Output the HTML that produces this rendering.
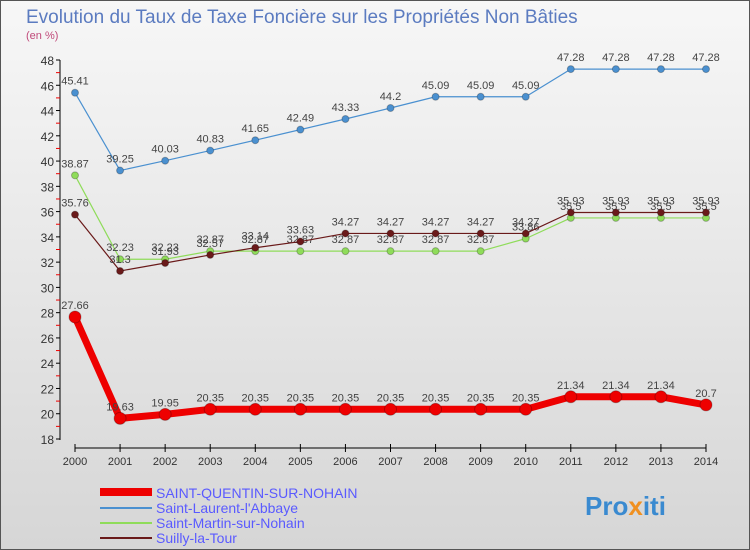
<!DOCTYPE html>
<html><head><meta charset="utf-8">
<style>
body{margin:0;width:750px;height:550px;overflow:hidden;font-family:"Liberation Sans",sans-serif;}
svg{display:block}
</style></head>
<body>
<svg id="chart" width="750" height="550" xmlns="http://www.w3.org/2000/svg">
<defs>
<linearGradient id="bg" x1="0" y1="0" x2="0" y2="1">
<stop offset="0" stop-color="#f7f7f7"/><stop offset="1" stop-color="#d6d6d6"/>
</linearGradient>
</defs>
<rect x="0.5" y="0.5" width="749" height="549" fill="url(#bg)" stroke="#555"/>
<text x="26" y="23" font-size="19" fill="#5b7bc0">Evolution du Taux de Taxe Foncière sur les Propriétés Non Bâties</text>
<text x="26" y="39" font-size="11" fill="#c04a7a">(en %)</text>
<g id="axes"></g>
<g id="series"></g>
<g id="legend">
<rect x="100" y="488" width="52" height="8" fill="#e00"/>
<text x="156" y="498" font-size="14" fill="#5a5aff">SAINT-QUENTIN-SUR-NOHAIN</text>
<rect x="100" y="507" width="52" height="2" fill="#4a90d0"/>
<text x="156" y="513" font-size="14" fill="#5a5aff">Saint-Laurent-l'Abbaye</text>
<rect x="100" y="522" width="52" height="2" fill="#8fdc5a"/>
<text x="156" y="528" font-size="14" fill="#5a5aff">Saint-Martin-sur-Nohain</text>
<rect x="100" y="537" width="52" height="2" fill="#6a1a1a"/>
<text x="156" y="543" font-size="14" fill="#5a5aff">Suilly-la-Tour</text>
</g>
<text x="585" y="515" font-size="26" font-weight="bold" fill="#3a8ad0">Pro<tspan fill="#f09020">x</tspan>iti</text>
</svg>
<script>
const years=[2000,2001,2002,2003,2004,2005,2006,2007,2008,2009,2010,2011,2012,2013,2014];
const yTicks=[18,20,22,24,26,28,30,32,34,36,38,40,42,44,46,48];
const quentin=[27.66,19.63,19.95,20.35,20.35,20.35,20.35,20.35,20.35,20.35,20.35,21.34,21.34,21.34,20.7];
const laurent=[45.41,39.25,40.03,40.83,41.65,42.49,43.33,44.2,45.09,45.09,45.09,47.28,47.28,47.28,47.28];
const martin=[38.87,32.23,32.23,32.87,32.87,32.87,32.87,32.87,32.87,32.87,33.86,35.5,35.5,35.5,35.5];
const suilly=[35.76,31.3,31.93,32.57,33.14,33.63,34.27,34.27,34.27,34.27,34.27,35.93,35.93,35.93,35.93];
const NS="http://www.w3.org/2000/svg";
const xS=i=>75+i*(706-75)/14;
const yS=v=>439-(v-18)*(439-60)/30;
function mk(t,a,p){const e=document.createElementNS(NS,t);for(const k in a)e.setAttribute(k,a[k]);p.appendChild(e);return e;}
const ax=document.getElementById('axes');
let l=mk('line',{x1:60,y1:60,x2:60,y2:440,stroke:'#000'},ax);


yTicks.forEach(v=>{
 mk('line',{x1:56,y1:yS(v),x2:60,y2:yS(v),stroke:'#000'},ax);
 if(v<48) mk('line',{x1:56,y1:yS(v+1),x2:60,y2:yS(v+1),stroke:'#e00'},ax);
 const t=mk('text',{x:54,y:yS(v)+5,'font-size':12,'text-anchor':'end',fill:'#333'},ax);
 
 
 t.textContent=v;
});
l=mk('line',{x1:75,y1:448,x2:706,y2:448,stroke:'#000'},ax);


years.forEach((y,i)=>{
 mk('line',{x1:xS(i),y1:444,x2:xS(i),y2:452,stroke:'#000'},ax);
 const t=mk('text',{x:xS(i),y:465,'font-size':11,'text-anchor':'middle',fill:'#333'},ax);
 
 
 t.textContent=y;
});
const sg=document.getElementById('series');
function draw(vals,color,w,r,name){
 const g=mk('g',{},sg);
 
 
 mk('polyline',{points:vals.map((v,i)=>xS(i)+','+yS(v)).join(' '),fill:'none',stroke:color,'stroke-width':w,'stroke-linejoin':'round'},g);
 vals.forEach((v,i)=>{
  const c=mk('circle',{cx:xS(i),cy:yS(v),r:r,fill:color,stroke:'rgba(0,0,0,0.25)'},g);
  
  
  const t=mk('text',{x:xS(i),y:yS(v)-8,'font-size':11,'text-anchor':'middle',fill:'#444'},g);
  
  
  t.textContent=v;
 });
}
draw(laurent,'#4a90d0',1.2,3.5,'series-saint-laurent');
draw(martin,'#8fdc5a',1.2,3.5,'series-saint-martin');
draw(suilly,'#6a1a1a',1.2,3.5,'series-suilly');
draw(quentin,'#ee0000',7,6,'series-saint-quentin');
</script>
</body></html>
